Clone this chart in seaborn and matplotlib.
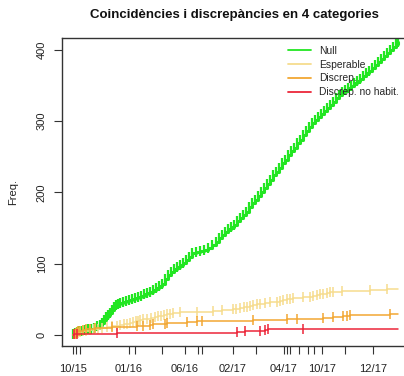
import matplotlib
matplotlib.use("Agg")
import matplotlib.pyplot as plt
import seaborn as sns
import numpy as np
from matplotlib.lines import Line2D

sns.set_style("white")
plt.rcParams["font.family"] = ["Liberation Sans", "DejaVu Sans"]

# Record sequence position (x) of each event and running count (y)
null_x = [0, 1, 2, 4, 6, 9, 12, 15, 18, 21, 24, 27, 29, 31, 33, 35, 37, 39, 41, 43,
          45, 47, 50, 53, 56, 59, 62, 65, 68, 71, 74, 77, 80, 83, 86, 89, 92, 95, 98,
          101, 104, 107, 110, 113, 116, 119, 123, 127, 131, 135, 139, 143, 146, 149,
          152, 155, 158, 161, 164, 167, 170, 173, 176, 179, 182, 185, 188, 191, 194,
          197, 200, 203, 206, 209, 212, 215, 218, 221, 224, 227, 230, 233, 236, 239,
          242, 245, 248, 251, 254, 257, 260, 263, 266, 269, 272, 275, 278, 281, 284,
          287, 290, 293, 296, 299, 302, 305, 308, 311, 314, 317, 320, 323, 325]
null_y = [1, 2, 3, 4, 5, 6, 7, 8, 9, 10, 12, 14, 17, 21, 25, 28, 31, 35, 39, 42,
          44, 45, 46, 48, 49, 50, 52, 53, 55, 57, 59, 61, 63, 66, 69, 72, 78, 84, 88,
          92, 95, 98, 101, 105, 110, 115, 116, 118, 120, 122, 126, 131, 136, 140,
          145, 149, 152, 155, 160, 164, 168, 173, 179, 185, 190, 195, 200, 206, 212,
          218, 224, 229, 235, 241, 246, 252, 258, 263, 269, 274, 280, 286, 292, 297,
          302, 306, 310, 314, 319, 323, 327, 332, 337, 341, 344, 347, 350, 353, 356,
          359, 363, 367, 371, 375, 379, 383, 388, 392, 396, 400, 404, 408, 411]

esperable_x = [1, 3, 5, 7, 10, 13, 17, 21, 25, 29, 34, 39, 44, 47, 51, 54, 57, 60,
               63, 65, 67, 70, 74, 78, 82, 85, 88, 91, 94, 97, 100, 107, 124, 140,
               149, 160, 163, 167, 171, 174, 177, 180, 184, 187, 192, 197, 204, 207,
               210, 214, 217, 220, 230, 237, 240, 244, 247, 250, 254, 257, 260, 269,
               297, 314]
esperable_y = list(range(1, len(esperable_x) + 1))

discrep_x = [1, 2, 3, 4, 5, 7, 10, 13, 17, 22, 39, 64, 70, 77, 80, 92, 94, 114,
             124, 129, 180, 214, 224, 250, 260, 270, 274, 277, 317]
discrep_y = list(range(1, len(discrep_x) + 1))

nohabit_x = [1, 4, 44, 164, 172, 187, 192, 195, 230]
nohabit_y = list(range(1, len(nohabit_x) + 1))

x_end = 325

series_names = ["Null", "Esperable", "Discrep.", "Discrep. no habit."]
series_colors = ["#22e622", "#f6dc8e", "#f2a733", "#ec2639"]

tick_pos = [0.3, 2.7, 7, 56, 62, 89, 112, 125, 129, 160, 183, 211, 214, 217,
            226, 235, 241, 249, 272, 300]
tick_lab = ["10/15", "", "", "01/16", "", "", "06/16", "", "", "02/17", "",
            "04/17", "", "", "", "", "", "10/17", "", "12/17"]

W, H = 404, 376
fig = plt.figure(figsize=(W / 100, H / 100), dpi=100)
ax = fig.add_axes([62 / W, 1 - 346 / H, (411 - 62) / W, (346 - 38) / H])

data = [(null_x, null_y), (esperable_x, esperable_y),
        (discrep_x, discrep_y), (nohabit_x, nohabit_y)]
widths = [2.2, 1.1, 1.1, 1.1]
msizes = [7, 7, 7, 7.5]
mews = [1.6, 1.1, 1.1, 1.1]

for (xs, ys), name, col, lw, ms, mw in zip(data, series_names, series_colors,
                                           widths, msizes, mews):
    # step line carried on to the last record
    lx = [0] + list(xs) + [x_end]
    ly = [0] + list(ys) + [ys[-1]]
    sns.lineplot(x=lx, y=ly, ax=ax, color=col, lw=lw, drawstyle="steps-post",
                 estimator=None, sort=False)
    # a tick mark at every event
    sns.lineplot(x=list(xs), y=list(ys), ax=ax, color=col, linestyle="",
                 marker="|", markersize=ms, mew=mw, mec=col,
                 estimator=None, sort=False)

ax.set_xlim(-11, 338)
ax.set_ylim(-15.4, 416.8)

fs = 8
ax.set_yticks([0, 100, 200, 300, 400])
ax.set_yticklabels(["0", "100", "200", "300", "400"], rotation=90, va="center")
ax.set_xticks(tick_pos)
ax.set_xticklabels(tick_lab)
ax.tick_params(axis="both", direction="out", length=6, width=0.8, colors="#333333",
               labelsize=fs, labelcolor="#222222", bottom=True, left=True)
ax.tick_params(axis="y", pad=5)
ax.tick_params(axis="x", pad=7)

for side in ["left", "top", "bottom", "right"]:
    ax.spines[side].set_color("#333333")
    ax.spines[side].set_linewidth(1.0)
ax.set_ylabel("Freq.", fontsize=fs, color="#222222")
ax.yaxis.set_label_coords(-(62 - 18) / (411 - 62), 0.5)

fig.text(234 / W, 1 - 15 / H, "Coincidències i discrepàncies en 4 categories",
         ha="center", va="center", fontsize=9.5, fontweight="bold", color="#111111")

handles = [Line2D([], [], color=c, lw=1.3) for c in series_colors]
ax.legend(handles, series_names, loc="upper left",
          bbox_to_anchor=(288 / W, 1 - 46 / H), bbox_transform=fig.transFigure,
          frameon=False, fontsize=7.4, handlelength=2.2, handletextpad=0.85,
          labelspacing=0.36, borderpad=0, borderaxespad=0)

fig.savefig("out.png", dpi=100)
